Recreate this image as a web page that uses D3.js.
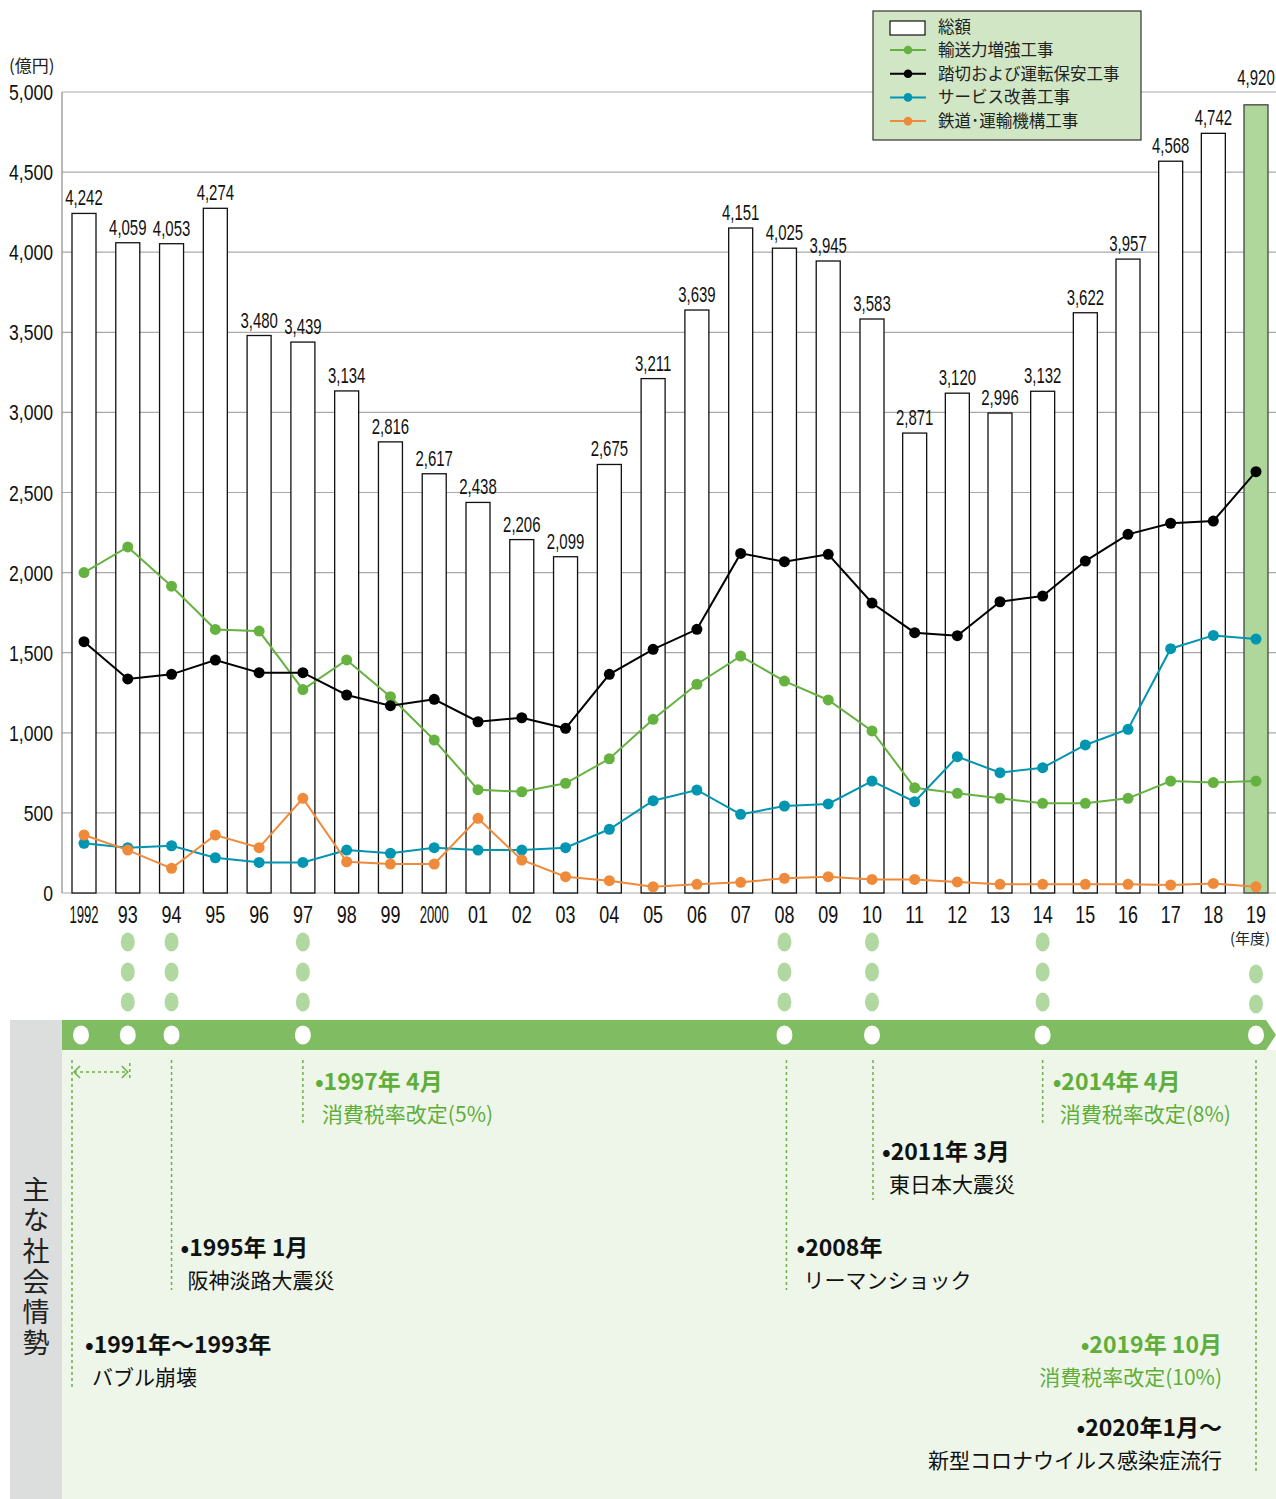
<!DOCTYPE html>
<html><head><meta charset="utf-8">
<script src="https://cdn.jsdelivr.net/npm/d3@7"></script>
<style>
html,body{margin:0;padding:0;background:#fff;}
svg{display:block;}
.num{font-family:"Liberation Sans",Arial,sans-serif;}
.jp{font-family:"Noto Sans CJK JP","Noto Sans",sans-serif;}
</style></head>
<body>
<svg id="c" width="1276" height="1499"></svg>
<script>
// ---- data ----
const years = ["1992","93","94","95","96","97","98","99","2000","01","02","03","04","05","06","07","08","09","10","11","12","13","14","15","16","17","18","19"];
const totals = [4242,4059,4053,4274,3480,3439,3134,2816,2617,2438,2206,2099,2675,3211,3639,4151,4025,3945,3583,2871,3120,2996,3132,3622,3957,4568,4742,4920];
const transport = [2000,2160,1915,1645,1635,1270,1455,1225,955,645,632,685,838,1084,1303,1479,1323,1205,1012,657,622,591,560,560,591,699,689,699];
const safety = [1569,1336,1365,1454,1375,1375,1236,1169,1209,1069,1094,1028,1365,1521,1646,2120,2068,2114,1810,1625,1606,1818,1854,2072,2239,2308,2322,2630];
const service = [310,283,295,220,191,191,268,248,283,268,268,283,398,576,643,491,543,556,699,570,851,751,782,924,1022,1525,1608,1585];
const jrtt = [362,268,154,362,283,591,195,181,181,466,206,102,77,39,54,67,92,102,85,85,69,54,54,54,54,50,60,39];
const yTicks = [0,500,1000,1500,2000,2500,3000,3500,4000,4500,5000];
const seriesNames = ["輸送力増強工事","踏切および運転保安工事","サービス改善工事","鉄道･運輸機構工事"];
const totalName = "総額";
const eventYears = ["1992","93","94","97","08","10","14","19"];
const dotYears3 = ["93","94","97","08","10","14"];
const dotYears2 = ["19"];
const events = [
  {key:"1997", head:"•1997年 4月", body:"消費税率改定(5%)", green:true},
  {key:"2011", head:"•2011年 3月", body:"東日本大震災", green:false},
  {key:"2014", head:"•2014年 4月", body:"消費税率改定(8%)", green:true},
  {key:"1995", head:"•1995年 1月", body:"阪神淡路大震災", green:false},
  {key:"2008", head:"•2008年", body:"リーマンショック", green:false},
  {key:"1991", head:"•1991年〜1993年", body:"バブル崩壊", green:false},
  {key:"2019", head:"•2019年 10月", body:"消費税率改定(10%)", green:true},
  {key:"2020", head:"•2020年1月〜", body:"新型コロナウイルス感染症流行", green:false}
];
const sideTitle = "主な社会情勢";

// ---- colors ----
const cGreen = "#66b240", cBlack = "#000", cTeal = "#0095b1", cOrange = "#f08a3b";
const colors = [cGreen, cBlack, cTeal, cOrange];
const seriesData = [transport, safety, service, jrtt];

const svg = d3.select("#c");
const xi = d3.scaleLinear().domain([0, 9, 18, 27]).range([84, 478, 872, 1256]);
const cx = d => xi(years.indexOf(d));
const barW = 24;
const y = d3.scaleLinear().domain([0,5000]).range([893, 92]);
const fmt = d3.format(",");

// gridlines
svg.append("g").selectAll("line").data(yTicks).join("line")
  .attr("x1", 62).attr("x2", 1276).attr("y1", d=>y(d)).attr("y2", d=>y(d))
  .attr("stroke", "#a9a9a9").attr("stroke-width", 1.2);
svg.append("line").attr("x1",62).attr("x2",62).attr("y1",y(5000)).attr("y2",y(0))
  .attr("stroke","#8a8a8a").attr("stroke-width",1.2);

// y axis labels (condensed)
svg.append("g").selectAll("text").data(yTicks).join("text")
  .attr("class","num")
  .attr("transform",d=>`translate(53,${y(d)+8}) scale(0.8,1)`)
  .attr("text-anchor","end").style("font-size","22px").attr("fill","#111").text(d=>fmt(d));
svg.append("text").attr("class","jp").attr("x",9).attr("y",72).style("font-size","17px").attr("fill","#222").text("(億円)");

// bars
svg.append("g").selectAll("rect").data(totals).join("rect")
  .attr("x",(d,i)=>xi(i)-barW/2).attr("width",barW)
  .attr("y",d=>y(d)).attr("height",d=>y(0)-y(d))
  .attr("fill",(d,i)=> i===years.length-1 ? "#afd69b" : "#fff")
  .attr("stroke",(d,i)=> i===years.length-1 ? "#444" : "#111").attr("stroke-width",1.3);

// bar labels
svg.append("g").selectAll("text").data(totals).join("text")
  .attr("class","num")
  .attr("transform",(d,i)=>{
    let ty = y(d)-8;
    if (ty > y(5000)-8 && ty < y(5000)+18) ty = y(5000)-7;
    return `translate(${xi(i)},${ty}) scale(0.68,1)`;
  })
  .attr("text-anchor","middle").style("font-size","22px").attr("fill","#111")
  .text(d=>fmt(d));

// lines
const line = d3.line().x((d,i)=>xi(i)).y(d=>y(d));
seriesData.forEach((s,k)=>{
  const g = svg.append("g");
  g.append("path").attr("d", line(s)).attr("fill","none").attr("stroke",colors[k]).attr("stroke-width",2);
  g.selectAll("circle").data(s).join("circle").attr("cx",(d,i)=>xi(i)).attr("cy",d=>y(d)).attr("r",5.5).attr("fill",colors[k]);
});

// x labels
svg.append("g").selectAll("text").data(years).join("text")
  .attr("class","num")
  .attr("transform",(d,i)=>`translate(${xi(i)},923) scale(${d.length>2?0.57:0.78},1)`)
  .attr("text-anchor","middle").style("font-size","23px").attr("fill","#111").text(d=>d);
svg.append("text").attr("class","jp").attr("x",1250).attr("y",944).attr("text-anchor","middle")
  .style("font-size","15px").attr("fill","#222").text("(年度)");

// legend
const lg = svg.append("g");
lg.append("rect").attr("x",873).attr("y",11).attr("width",268).attr("height",129).attr("fill","#d0e6c5").attr("stroke","#333").attr("stroke-width",1.2);
lg.append("rect").attr("x",890).attr("y",21).attr("width",35).attr("height",14).attr("fill","#fff").attr("stroke","#111").attr("stroke-width",1.2);
lg.append("text").attr("class","jp").attr("x",938).attr("y",32.5).style("font-size","16.5px").attr("fill","#222").text(totalName);
seriesNames.forEach((n,k)=>{
  const yy = 50 + k*23.7;
  lg.append("line").attr("x1",890).attr("x2",926).attr("y1",yy).attr("y2",yy).attr("stroke",colors[k]).attr("stroke-width",2);
  lg.append("circle").attr("cx",908).attr("cy",yy).attr("r",4.3).attr("fill",colors[k]);
  lg.append("text").attr("class","jp").attr("x",938).attr("y",yy+6).style("font-size","16.5px").attr("fill","#222").text(n);
});

// ---- bottom timeline ----
const dotLight = "#b1d8a0";
svg.append("g").selectAll("ellipse").data(dotYears3.flatMap(yr=>[942,972,1002].map(v=>({yr,v})))).join("ellipse")
  .attr("cx",d=>cx(d.yr)).attr("cy",d=>d.v).attr("rx",7).attr("ry",9.5).attr("fill",dotLight);
svg.append("g").selectAll("ellipse").data(dotYears2.flatMap(yr=>[974,1004].map(v=>({yr,v})))).join("ellipse")
  .attr("cx",d=>cx(d.yr)).attr("cy",d=>d.v).attr("rx",7).attr("ry",9.5).attr("fill",dotLight);

svg.append("rect").attr("x",10).attr("y",1020).attr("width",52).attr("height",479).attr("fill","#dcdddd");
svg.append("rect").attr("x",62).attr("y",1050).attr("width",1214).attr("height",449).attr("fill","#eef6ea");
svg.append("path").attr("d","M62,1020 L1266,1020 L1276,1035 L1266,1050 L62,1050 Z").attr("fill","#80bc62");
svg.append("g").selectAll("ellipse").data(eventYears).join("ellipse")
  .attr("cx",d=> d==="1992" ? cx(d)-3 : cx(d)).attr("cy",1035).attr("rx",8).attr("ry",9.5).attr("fill","#fff");

// side title (vertical)
svg.append("text").attr("class","jp").attr("x",36).attr("y",1176)
  .style("writing-mode","vertical-rl").style("letter-spacing","3.6px")
  .style("font-size","27px").attr("fill","#222").text(sideTitle);

// dashed guide lines
const dashC = "#6ab344";
const guides = [
  {x:cx("1992")-barW/2, y2:1390},
  {x:cx("94"), y2:1290},
  {x:cx("97"), y2:1124},
  {x:cx("08")+2, y2:1290},
  {x:cx("10")+1, y2:1200},
  {x:cx("14"), y2:1124},
  {x:cx("19"), y2:1472}
];
svg.append("g").selectAll("line").data(guides).join("line")
  .attr("x1",d=>d.x).attr("x2",d=>d.x).attr("y1",1060).attr("y2",d=>d.y2)
  .attr("stroke",dashC).attr("stroke-width",1.5).attr("stroke-dasharray","3,3");
// bubble-period arrow
const ax1 = cx("1992")-barW/2, ax2 = cx("93")+2;
const ag = svg.append("g").attr("stroke",dashC).attr("stroke-width",1.5).attr("fill","none");
ag.append("line").attr("x1",ax1+2).attr("x2",ax2-2).attr("y1",1072).attr("y2",1072).attr("stroke-dasharray","3,3");
ag.append("path").attr("d",`M${ax1+8},1066 L${ax1+2},1072 L${ax1+8},1078`);
ag.append("path").attr("d",`M${ax2-8},1066 L${ax2-2},1072 L${ax2-8},1078`);
ag.append("line").attr("x1",ax2).attr("x2",ax2).attr("y1",1063).attr("y2",1081).attr("stroke-dasharray","3,3");

// event texts
const evPos = {
  "1997":{x:cx("97")+12, y:1082, anchor:"start"},
  "2011":{x:cx("10")+10, y:1152, anchor:"start"},
  "2014":{x:cx("14")+10, y:1082, anchor:"start"},
  "1995":{x:cx("94")+9, y:1248, anchor:"start"},
  "2008":{x:cx("08")+12, y:1248, anchor:"start"},
  "1991":{x:cx("1992")+1, y:1345, anchor:"start"},
  "2019":{x:1222, y:1345, anchor:"end"},
  "2020":{x:1222, y:1428, anchor:"end"}
};
events.forEach(e=>{
  const p = evPos[e.key];
  const col = e.green ? "#5fae3a" : "#111";
  svg.append("text").attr("class","jp").attr("x",p.x).attr("y",p.y+8).attr("text-anchor",p.anchor)
    .style("font-size","23px").style("font-weight","bold").attr("fill",col).text(e.head);
  svg.append("text").attr("class","jp").attr("x",p.anchor==="start"?p.x+7:p.x).attr("y",p.y+40).attr("text-anchor",p.anchor)
    .style("font-size","21px").attr("fill",col).text(e.body);
});
</script>
</body></html>
